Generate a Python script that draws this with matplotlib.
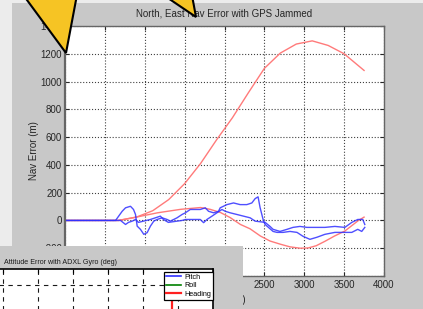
import matplotlib
matplotlib.use("Agg")
import matplotlib.pyplot as plt
from matplotlib.patches import Polygon, Rectangle

plt.rcParams['font.family'] = ['Liberation Sans', 'DejaVu Sans']

W, H = 423, 309

# nav error data (time in s, error in m)
north_t = [0, 634, 717, 759, 821, 859, 884, 905, 946, 988, 1030, 1071, 1113, 1155,
           1218, 1280, 1321, 1405, 1468, 1509, 1571, 1696, 1759, 1800, 1863, 1925,
           1946, 2030, 2113, 2196, 2280, 2343, 2384, 2421, 2446, 2484, 2509, 2609,
           2659, 2734, 2821, 2909, 2984, 3071, 3159, 3259, 3384, 3509, 3596, 3671,
           3721, 3759]
north_err = [0, 0, 66, 91, 102, 79, 43, -41, -64, -100, -88, -41, -5, 7,
             19, 7, -5, 19, 43, 55, 79, 79, 91, 66, 55, 66,
             91, 114, 126, 114, 114, 126, 157, 170, 93, 7, -29, -79,
             -86, -86, -79, -86, -114, -136, -121, -100, -86, -86, -86, -64,
             -79, -50]

east_t = [0, 696, 759, 796, 843, 884, 921, 984, 1071, 1134, 1196, 1234, 1296, 1405,
          1468, 1509, 1571, 1696, 1738, 1780, 1843, 1905, 1968, 2009, 2071, 2155,
          2238, 2321, 2384, 2509, 2571, 2609, 2696, 2784, 2859, 2946, 3034, 3159,
          3259, 3384, 3509, 3596, 3671, 3734, 3759]
east_err = [0, 0, -29, -14, -5, 7, -14, -5, 7, 19, 31, 7, -14, -5,
            0, 7, 7, 7, -16, 7, 31, 55, 79, 66, 55, 43,
            31, 19, -5, -14, -43, -64, -79, -64, -50, -43, -50, -50,
            -50, -43, -50, -14, 7, 7, -29]

bound_t = [0, 670, 900, 1100, 1300, 1500, 1700, 1900, 2100, 2300, 2500, 2700, 2900,
           3100, 3300, 3500, 3750]
bound_err = [0, 0, 25, 70, 150, 265, 410, 580, 740, 920, 1095, 1205, 1270,
             1293, 1260, 1200, 1080]

est_t = [0, 670, 860, 1160, 1450, 1700, 1820, 1950, 2070, 2200, 2320, 2450, 2570,
         2700, 2820, 2950, 3050, 3150, 3260, 3380, 3510, 3590, 3680, 3750]
est_err = [0, 0, 20, 55, 80, 93, 80, 57, 21, -29, -60, -112, -148,
           -171, -190, -200, -198, -182, -150, -112, -76, -40, 0, 24]

x_ticks = list(range(0, 4001, 500))
y_ticks = list(range(-400, 1401, 200))

# attitude error inset data (deg)
att_t = [0, 4000]
pitch_err = [-38, -38]
roll_err = [-39, -39]
heading_t = [3410, 3410]
heading_err = [-8, -45]


def fx(px):
    return px / W


def fy(py):
    return 1 - py / H


fig = plt.figure(figsize=(W / 100, H / 100), dpi=100)
fig.patch.set_facecolor('#ececec')
fig.add_artist(Rectangle((fx(12), 0), 1, fy(3), transform=fig.transFigure,
                         facecolor='#c8c8c8', edgecolor='none', zorder=-1))

ax = fig.add_axes([fx(65), fy(276), 319 / W, 250 / H], zorder=1)
ax.plot(bound_t, bound_err, color='#ff7a7a', lw=1.0)
ax.plot(est_t, est_err, color='#ff7a7a', lw=1.0)
ax.plot(north_t, north_err, color='#3030ff', lw=1.0, alpha=0.85)
ax.plot(east_t, east_err, color='#3030ff', lw=1.0, alpha=0.85)
ax.set_xlim(0, 4000)
ax.set_ylim(-400, 1400)
ax.set_xticks(x_ticks)
ax.set_yticks(y_ticks)
ax.grid(True, linestyle=':', color='0.25', lw=0.8)
ax.tick_params(direction='in', length=3, labelsize=7, colors='0.15',
               top=True, right=True)
ax.tick_params(axis='x', pad=3)
ax.tick_params(axis='y', pad=2)
for s in ax.spines.values():
    s.set_color('0.4')
    s.set_linewidth(1.0)
ax.spines['left'].set_linewidth(1.6)

fig.text(fx(224.5), fy(14), 'North, East Nav Error with GPS Jammed',
         fontsize=7, color='0.15', ha='center', va='center')
fig.text(fx(34), fy(151), 'Nav Error (m)', fontsize=7, color='0.15',
         rotation=90, ha='center', va='center')
fig.text(fx(223), fy(300), 'Time (sec)', fontsize=7, color='0.15',
         ha='center', va='center', zorder=1)

# inset window with the attitude plot
fig.add_artist(Rectangle((0, 0), fx(243), 63 / H, transform=fig.transFigure,
                         facecolor='#c8c8c8', edgecolor='none', zorder=2))
fig.text(fx(4), fy(262), 'Attitude Error with ADXL Gyro (deg)', fontsize=5.1,
         color='0.1', ha='left', va='center', zorder=4)

ax2 = fig.add_axes([fx(-67), fy(349), 280 / W, 80 / H], zorder=3)
ax2.plot(att_t, pitch_err, color='#3030ff', lw=1.2, label='Pitch')
ax2.plot(att_t, roll_err, color='#008000', lw=1.2, label='Roll')
ax2.plot(heading_t, heading_err, color='#ff2020', lw=1.6, label='Heading')
ax2.set_xlim(0, 4000)
ax2.set_ylim(-40, 10)
ax2.set_xticks(x_ticks)
ax2.set_yticks([-40, 0])
ax2.grid(True, linestyle=(0, (4, 4)), color='0.1', lw=0.8)
ax2.tick_params(direction='in', length=3, top=True, right=True,
                labelbottom=False, labelleft=False)
for s in ax2.spines.values():
    s.set_color('black')
    s.set_linewidth(1.2)
leg = ax2.legend(loc='upper right', bbox_to_anchor=(fx(213), fy(272)),
                 bbox_transform=fig.transFigure, fontsize=5.2, frameon=True,
                 fancybox=False, edgecolor='black', framealpha=1,
                 borderpad=0.25, labelspacing=0.2, handlelength=2.0,
                 handletextpad=0.5, borderaxespad=0)
leg.get_frame().set_linewidth(0.9)

# yellow callout pointers
for pts in ([(19.6, -10), (77.9, -10), (66, 53)],
            [(156, -10), (191, -10), (196, 17)]):
    fig.add_artist(Polygon([(fx(x), fy(y)) for x, y in pts], closed=True,
                           transform=fig.transFigure, facecolor='#f6c424',
                           edgecolor='black', lw=1.5, zorder=5))

fig.savefig('out.png', dpi=100, facecolor=fig.get_facecolor())
